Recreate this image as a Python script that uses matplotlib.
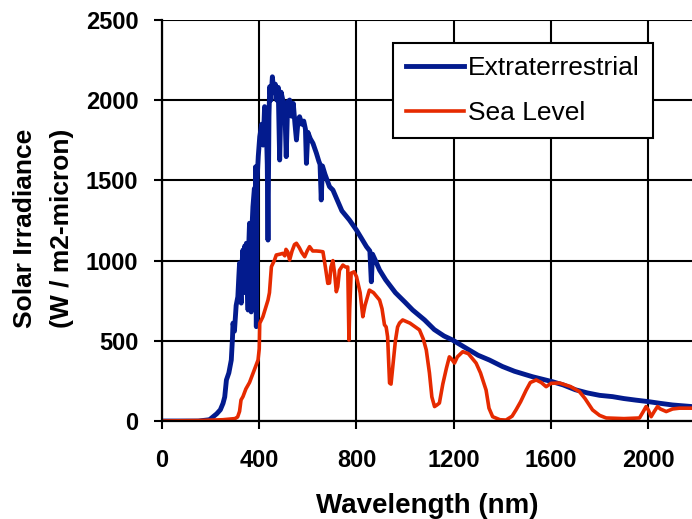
import matplotlib.pyplot as plt

plt.rcParams['font.family'] = ['Liberation Sans', 'DejaVu Sans']

# extraterrestrial spectrum (wavelength nm, W/m2-micron)
ext_wl = [0, 150, 195, 205, 225, 240, 251, 258, 265, 275, 285, 290, 292, 298, 305, 312,
          316, 319, 324, 326, 330, 333, 337, 340, 344, 347, 350, 354, 357, 360, 364, 367, 370, 374,
          380, 383, 385, 388, 391, 396, 402, 410, 416, 422, 428, 433, 436, 440, 443, 448, 454,
          460, 466, 472, 478, 484, 490, 497, 505, 511, 517, 525, 533, 540, 547, 553, 560,
          566, 575, 583, 590, 594, 600, 610, 621, 635, 645, 650, 655, 660, 670, 689, 703,
          720, 740, 771, 800, 820, 841, 855, 861, 866, 875, 895, 920, 960, 1000, 1031, 1080,
          1120, 1160, 1195, 1250, 1300, 1347, 1400, 1450, 1524, 1606, 1650, 1700, 1750,
          1800, 1853, 1900, 1950, 2000, 2050, 2100, 2180]
ext_val = [0, 0, 8, 20, 45, 70, 110, 150, 256, 300, 380, 520, 610, 560, 720, 775,
           900, 985, 760, 735, 1000, 1066, 800, 1090, 850, 1108, 900, 692, 1100, 1233, 1000, 680, 1200, 1336,
           1450, 1200, 1585, 588, 1500, 1650, 1772, 1850, 1720, 1960, 1900, 1600, 1128, 1900, 2084, 2000, 2146,
           2050, 2100, 2000, 2080, 1627, 2050, 2000, 1960, 1648, 1990, 2001, 1900, 1980, 1850, 1752, 1880,
           1897, 1850, 1870, 1820, 1606, 1800, 1760, 1731, 1670, 1620, 1600, 1378, 1590, 1540, 1461, 1440,
           1380, 1310, 1253, 1190, 1140, 1087, 1060, 868, 1040, 1010, 941, 880, 800, 740, 692, 630,
           570, 530, 505, 455, 410, 380, 340, 310, 276, 245, 225, 195, 175,
           160, 152, 140, 130, 121, 110, 100, 90]

# sea level spectrum
sea_wl = [0, 150, 250, 300, 311, 319, 325, 333, 345, 360, 375, 395, 400, 402, 415, 425,
          436, 442, 450, 463, 470, 485, 497, 505, 510, 517, 525, 535, 545, 553, 565, 575,
          587, 597, 607, 620, 635, 650, 662, 672, 682, 689, 695, 703, 710, 717, 723, 730,
          744, 755, 764, 767, 769, 772, 778, 790, 800, 815, 826, 835, 853, 870, 895, 905,
          915, 922, 928, 933, 936, 942, 950, 960, 969, 977, 990, 1020, 1059, 1075, 1087, 1100,
          1110, 1121, 1131, 1141, 1155, 1170, 1182, 1192, 1203, 1215, 1237, 1260, 1292, 1310,
          1325, 1333, 1345, 1360, 1390, 1415, 1440, 1456, 1475, 1498, 1515, 1539, 1560, 1580,
          1600, 1635, 1680, 1717, 1740, 1771, 1800, 1827, 1900, 1964, 1980, 1991, 2000, 2012,
          2025, 2038, 2050, 2074, 2100, 2128, 2180]
sea_val = [0, 3, 8, 15, 25, 60, 131, 152, 200, 240, 300, 380, 450, 609, 650, 700,
           754, 800, 962, 1004, 1035, 1040, 1045, 1030, 1070, 1055, 1004, 1060, 1100, 1108, 1080, 1050,
           1024, 1060, 1087, 1060, 1060, 1058, 1055, 960, 858, 860, 960, 1000, 920, 806, 837, 940,
           972, 960, 960, 700, 505, 700, 922, 930, 900, 800, 650, 720, 816, 800, 754, 700,
           600, 586, 525, 350, 237, 230, 350, 500, 586, 611, 630, 610, 568, 510, 443, 300,
           150, 90, 100, 112, 230, 330, 400, 385, 361, 400, 432, 420, 361, 300,
           230, 193, 80, 27, 8, 6, 30, 69, 120, 193, 240, 256, 240, 214,
           235, 237, 215, 183, 140, 69, 35, 19, 15, 19, 60, 90, 70, 27,
           60, 90, 75, 59, 75, 80, 80]

x_ticks = [0, 400, 800, 1200, 1600, 2000]
y_ticks = [0, 500, 1000, 1500, 2000, 2500]

fig = plt.figure(figsize=(6.92, 5.19), dpi=100)
ax = fig.add_axes([0.2341, 0.1888, 0.7659, 0.7727])

ax.plot(ext_wl, ext_val, color='#031B8E', lw=3.5, label='Extraterrestrial')
ax.plot(sea_wl, sea_val, color='#E62A00', lw=2.6, label='Sea Level')

ax.set_xlim(0, 2180)
ax.set_ylim(0, 2500)
ax.set_xticks(x_ticks)
ax.set_yticks(y_ticks)
ax.grid(True, color='black', lw=1.5)
ax.set_axisbelow(True)
for s in ['top', 'right']:
    ax.spines[s].set_visible(False)
for s in ['left', 'bottom']:
    ax.spines[s].set_linewidth(1.6)
ax.tick_params(axis='both', length=6, width=1.5, labelsize=17)
ax.tick_params(axis='y', pad=11)
ax.tick_params(axis='x', pad=14)
for lab in ax.get_xticklabels() + ax.get_yticklabels():
    lab.set_fontweight('bold')

ax.set_xlabel('Wavelength (nm)', fontsize=20, fontweight='bold', labelpad=15)
ax.set_ylabel('Solar Irradiance\n(W / m2-micron)', fontsize=19, fontweight='bold',
              linespacing=1.7)
ax.yaxis.set_label_coords(-0.166, 0.48)

leg = ax.legend(loc='upper left', bbox_to_anchor=(0.436, 0.943), fontsize=19,
                fancybox=False, framealpha=1, edgecolor='black', handlelength=2.2,
                handletextpad=0.15, borderpad=0.5, labelspacing=0.8, borderaxespad=0)
leg.get_frame().set_linewidth(1.5)

fig.savefig('out.png', dpi=100)
